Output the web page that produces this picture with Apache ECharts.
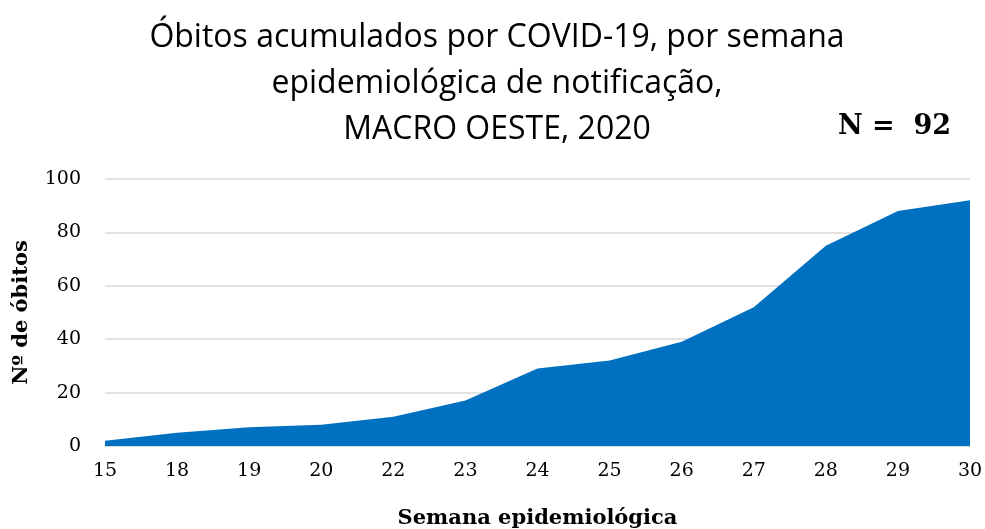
<!DOCTYPE html>
<html><head><meta charset="utf-8">
<script src="https://cdn.jsdelivr.net/npm/echarts@6/dist/echarts.min.js"></script>
<style>html,body{margin:0;padding:0;background:#fff}#c{width:985px;height:529px}</style>
</head><body><div id="c"></div>
<script>
const weeks = ['15','18','19','20','22','23','24','25','26','27','28','29','30'];
const deaths = [2,5,7,8,11,17,29,32,39,52,75,88,92];
const titleText = 'Óbitos acumulados por COVID-19, por semana\nepidemiológica de notificação,\nMACRO OESTE, 2020';
const nText = 'N =  92';
const chart = echarts.init(document.getElementById('c'));
chart.setOption({
  animation: false,
  title: [{
    text: titleText, left: 492, top: 10, textAlign: 'center',
    textStyle: {fontFamily: 'Open Sans', fontWeight: 'normal', fontSize: 32, lineHeight: 46, color: '#000'}
  },{
    text: nText, left: 833, top: 108,
    textStyle: {fontFamily: 'DejaVu Serif', fontWeight: 'bold', fontSize: 27, color: '#000'}
  }],
  grid: {left: 105, right: 15, top: 179, bottom: 83, outerBoundsMode: 'none', containLabel: false},
  xAxis: {
    type: 'category', data: weeks, boundaryGap: false,
    name: 'Semana epidemiológica', nameLocation: 'middle', nameGap: 62,
    nameTextStyle: {fontFamily: 'DejaVu Serif', fontWeight: 'bold', fontSize: 21, color: '#000'},
    axisLine: {show: true, lineStyle: {color: '#d9d9d9'}},
    axisTick: {show: false},
    axisLabel: {fontFamily: 'DejaVu Serif', fontSize: 19, color: '#000', margin: 16}
  },
  yAxis: {
    type: 'value', min: 0, max: 100, interval: 20,
    name: 'Nº de óbitos', nameLocation: 'middle', nameGap: 73,
    nameTextStyle: {fontFamily: 'DejaVu Serif', fontWeight: 'bold', fontSize: 21, color: '#000'},
    axisLine: {show: false}, axisTick: {show: false},
    axisLabel: {fontFamily: 'DejaVu Serif', fontSize: 19, color: '#000', margin: 24},
    splitLine: {lineStyle: {color: '#d9d9d9', width: 1.5}}
  },
  series: [{
    type: 'line', data: deaths, symbol: 'none',
    lineStyle: {width: 0}, areaStyle: {color: '#0070c0', opacity: 1}
  }]
});
</script></body></html>
